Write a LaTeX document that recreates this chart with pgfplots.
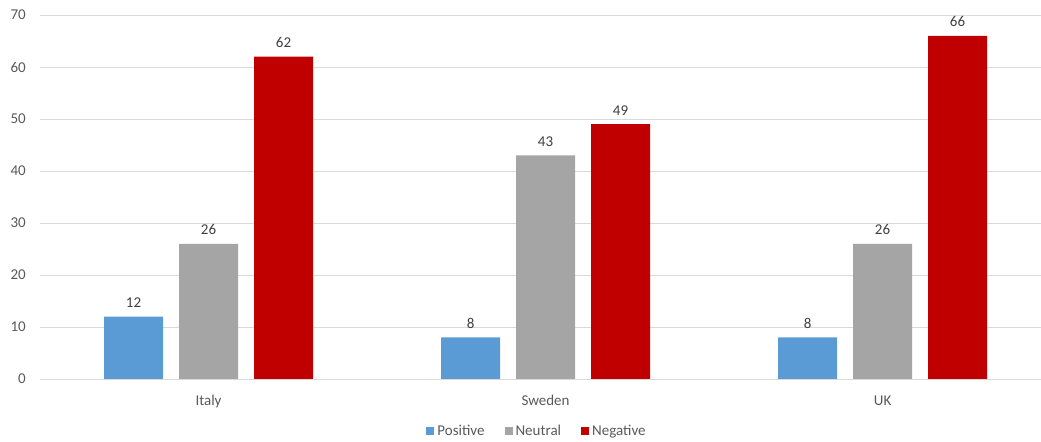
\documentclass[border=0pt]{standalone}
\usepackage{fontspec}
\setmainfont{Carlito}
\usepackage{pgfplots}
\pgfplotsset{compat=1.18}
\definecolor{posblue}{HTML}{5B9BD5}
\definecolor{neugray}{HTML}{A5A5A5}
\definecolor{negred}{HTML}{C00000}
\definecolor{gridgray}{HTML}{D9D9D9}
\definecolor{ticktext}{HTML}{595959}
\definecolor{valtext}{HTML}{404040}
\begin{document}
\begin{tikzpicture}
\begin{axis}[
  scale only axis, width=1001pt, height=364pt,
  xmin=-0.5, xmax=2.47, ymin=0, ymax=70,
  xtick={0,1,2}, xticklabels={Italy,Sweden,UK},
  ytick={0,10,...,70},
  ymajorgrids, grid style={draw=gridgray, line width=0.9pt},
  axis line style={draw=none},
  major tick length=0pt, tick style={draw=none},
  tick label style={font=\fontsize{15}{18}\selectfont, text=ticktext},
  /pgf/number format/assume math mode=true,
  xticklabel style={anchor=base, inner sep=0pt, yshift=-27pt},
  yticklabel style={anchor=east, inner sep=0pt, xshift=-14pt},
  ybar, bar width=59pt,
  nodes near coords,
  every node near coord/.append style={font=\fontsize{15}{18}\selectfont, text=valtext, anchor=base, inner sep=0pt, yshift=9pt},
  legend columns=3,
  legend style={draw=none, fill=none, at={(0.496,-0.143)}, anchor=center,
    font=\fontsize{15}{18}\selectfont, text=ticktext,
    nodes={inner sep=1pt},
    /tikz/every odd column/.append style={column sep=2pt},
    /tikz/every even column/.append style={column sep=19pt}},
]
\addplot[fill=posblue, draw=none, bar shift=-75pt,
  legend image code/.code={\fill[posblue] (0pt,-4pt) rectangle (8pt,4pt);}]
  coordinates {(0,12) (1,8) (2,8)};
\addplot[fill=neugray, draw=none, bar shift=0pt,
  legend image code/.code={\fill[neugray] (0pt,-4pt) rectangle (8pt,4pt);}]
  coordinates {(0,26) (1,43) (2,26)};
\addplot[fill=negred, draw=none, bar shift=75pt,
  legend image code/.code={\fill[negred] (0pt,-4pt) rectangle (8pt,4pt);}]
  coordinates {(0,62) (1,49) (2,66)};
\legend{Positive,Neutral,Negative}
\end{axis}
\pgfresetboundingbox
\path[use as bounding box] ([xshift=-40pt,yshift=-63pt]current axis.south west)
  rectangle ([yshift=15pt]current axis.north east);
\end{tikzpicture}
\end{document}
